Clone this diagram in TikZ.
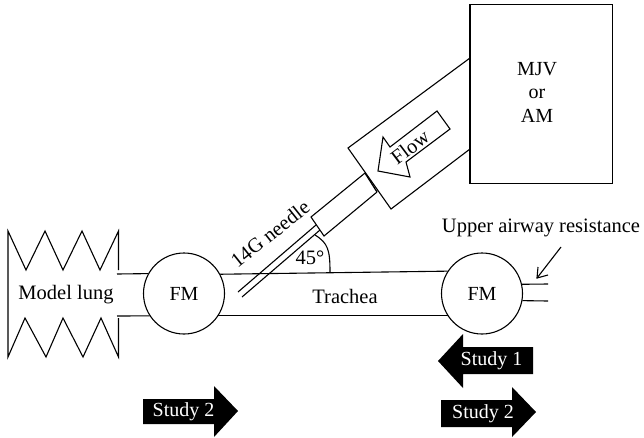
\documentclass[tikz,border=0pt]{standalone}
\usepackage{fontspec}
\setmainfont{Liberation Serif}
\begin{document}
\begin{tikzpicture}[x=1pt,y=-1pt,
  line/.style={line width=1.1pt,line join=miter,black},
  lbl/.style={font=\fontsize{20.5}{24}\selectfont,inner sep=0pt,text=black},
  study/.style={font=\fontsize{20}{24}\selectfont,inner sep=0pt,text=white},
  flowmeter/.style={draw,line width=1.1pt,circle,minimum size=81pt,inner sep=0pt,font=\fontsize{20}{24}\selectfont}]
\useasboundingbox (0,0) rectangle (644,437);
% ventilator box
\node[draw,line width=1.1pt,minimum width=142.5pt,minimum height=178.5pt,inner sep=0pt] (mjv) at (541.2,94) {};
\node[align=center,inner sep=0pt,font=\fontsize{20}{23.5}\selectfont] (mjvt) at (537,92) {MJV\\or\\AM};
% connector body
\coordinate (a1) at (470,58);
\coordinate (a2) at (348,148);
\coordinate (a3) at (391,209);
\coordinate (a4) at (470,149);
\draw[line] (a1) -- (a2) -- (a3) -- (a4);
% narrow tube
\coordinate (b1) at (365,173);
\coordinate (b2) at (311,217);
\coordinate (b3) at (324,236);
\coordinate (b4) at (377,192);
\draw[line] (b1) -- (b2) -- (b3) -- (b4);
\draw[line,line width=1.3pt] (b1) -- (b4);
% needle
\coordinate (n1) at (316,225);
\coordinate (n2) at (238,292);
\coordinate (n3) at (320,230);
\coordinate (n4) at (242,297);
\draw[line] (n1) -- (n2);
\draw[line] (n3) -- (n4);
% flow arrow
\draw[line] (437,111) -- (450,129) -- (406,162) -- (410,177) -- (378,171) -- (383,137) -- (390,147) -- cycle;
\node[lbl,rotate=37] (flow) at (410,147) {Flow};
% flow meters
\node[flowmeter] (fml) at (184,293.5) {FM};
\node[flowmeter] (fmr) at (482,293.5) {FM};
% trachea
\draw[line] (fml.28) -- (fmr.147);
\draw[line] (fml.-33.5) -- (fmr.213.5);
\node[lbl] (trachea) at (345,296) {Trachea};
% angle
\coordinate (c1) at (315,235);
\coordinate (c2) at (330,272);
\draw[line] (c1) .. controls (328,243) and (330,250) .. (c2);
\node[lbl] (ang) at (310,258) {45°};
\node[lbl,rotate=38.5] (needle) at (270,234) {14G needle};
% model lung
\draw[line] (118.5,270) -- (118.5,231) -- (100,270) -- (82,231) -- (63,270) -- (45,231) -- (26,270) -- (8,231) -- (8,357) -- (25,318) -- (46,357) -- (63,318) -- (83,357) -- (101,318) -- (118.5,357) -- (118.5,318);
\node[lbl] (lung) at (66,295) {Model lung};
\coordinate (l1) at (117,274);
\coordinate (l2) at (117,316);
\draw[line] (l1) -- (fml.151);
\draw[line] (l2) -- (fml.213.5);
% upper airway
\coordinate (s1) at (548,284);
\coordinate (s2) at (548,301);
\draw[line] (fmr.13.6) -- (s1);
\draw[line] (fmr.-10.7) -- (s2);
\node[lbl] (upper) at (541,228) {Upper airway resistance};
\coordinate (p1) at (561,247);
\coordinate (p2) at (537,278);
\draw[line] (p1) -- (p2);
\draw[line] (p2) ++(11,-3) -- (p2) -- ++(1,-11);
% study arrows
\fill[black] (143,399) -- (214,399) -- (214,386) -- (238,411) -- (214,437) -- (214,424) -- (143,424) -- cycle;
\node[study] (s2a) at (183.5,412) {Study 2};
\fill[black] (533,347) -- (463,347) -- (463,334) -- (438,361) -- (463,388) -- (463,374) -- (533,374) -- cycle;
\node[study] (s1a) at (491.5,361) {Study 1};
\fill[black] (441,400) -- (512,400) -- (512,387) -- (536,412) -- (512,437) -- (512,427) -- (441,427) -- cycle;
\node[study] (s2b) at (483,414) {Study 2};
\end{tikzpicture}
\end{document}
